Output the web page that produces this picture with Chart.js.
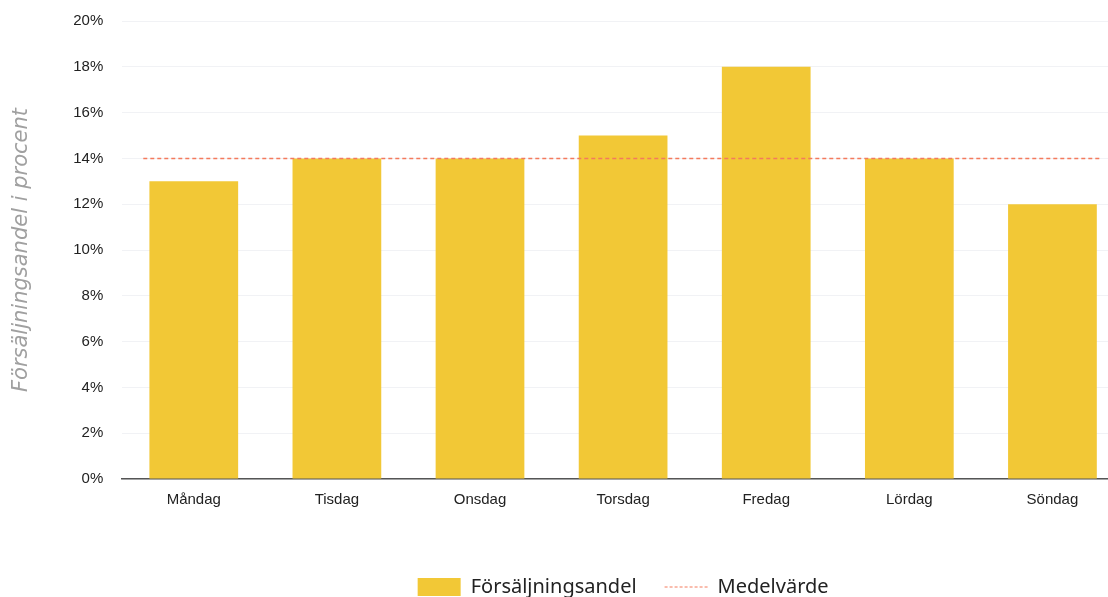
<!DOCTYPE html>
<html>
<head>
<meta charset="utf-8">
<script src="https://cdn.jsdelivr.net/npm/chart.js@4"></script>
<style>
  html, body { margin: 0; padding: 0; background: #fff; overflow: hidden; }
  #wrap { width: 1124px; height: 607px; }
</style>
</head>
<body>
<div id="wrap"><canvas id="salesChart"></canvas></div>
<script>
const days = ["Måndag", "Tisdag", "Onsdag", "Torsdag", "Fredag", "Lördag", "Söndag"];
const salesShare = [13, 14, 14, 15, 18, 14, 12];
const meanValue = 14;
const meanPoints = [{ x: 0, y: meanValue }, { x: 1, y: meanValue }];
const yTicks = [0, 2, 4, 6, 8, 10, 12, 14, 16, 18, 20];

const ctx = document.getElementById("salesChart").getContext("2d");

// legend: keep dataset order and show the mean line dashed
function legendLabels(chart) {
  const items = Chart.defaults.plugins.legend.labels.generateLabels(chart);
  items.forEach(item => {
    const ds = chart.data.datasets[item.datasetIndex];
    if (ds.borderDash) {
      item.lineDash = [3, 2];
      item.lineWidth = 1;
    }
  });
  return items;
}

// center the legend under the plot area instead of the whole canvas
const legendUnderPlot = {
  id: "legendUnderPlot",
  afterLayout(chart) {
    if (chart.legend) chart.legend.left = chart.chartArea.left;
  }
};

new Chart(ctx, {
  data: {
    labels: days,
    datasets: [
      {
        type: "bar",
        label: "Försäljningsandel",
        data: salesShare,
        backgroundColor: "#F2C836",
        borderWidth: 0,
        grouped: false,
        categoryPercentage: 1,
        barPercentage: 0.62,
        pointStyle: "rect",
        order: 2
      },
      {
        type: "line",
        label: "Medelvärde",
        data: meanPoints,
        xAxisID: "xMean",
        borderColor: "#F47A5C",
        borderWidth: 1.5,
        borderDash: [4, 3],
        pointRadius: 0,
        pointStyle: "line",
        fill: false,
        order: 1
      }
    ]
  },
  options: {
    responsive: true,
    maintainAspectRatio: false,
    animation: false,
    layout: { padding: { top: 21, left: 0, right: 0, bottom: 0 } },
    plugins: {
      tooltip: { enabled: false },
      legend: {
        position: "bottom",
        labels: {
          usePointStyle: true,
          pointStyleWidth: 43,
          boxHeight: 18,
          padding: 28,
          color: "#222",
          font: { family: "'Noto Sans', sans-serif", size: 20 },
          generateLabels: legendLabels,
          sort: (a, b) => a.datasetIndex - b.datasetIndex
        }
      }
    },
    scales: {
      x: {
        type: "category",
        grid: { display: false, drawTicks: false },
        border: { display: true, color: "#555", width: 1.5 },
        ticks: {
          padding: 12,
          color: "#222",
          font: { family: "'Liberation Sans', Arial, sans-serif", size: 15 }
        },
        afterFit: (scale) => { scale.height += 28; }
      },
      xMean: {
        type: "linear",
        display: false,
        min: -0.022,
        max: 1.024
      },
      y: {
        min: 0,
        max: 20,
        afterBuildTicks: (scale) => { scale.ticks = yTicks.map(v => ({ value: v })); },
        grid: { color: "#f1f2f5", drawTicks: true, tickLength: 16, tickColor: "transparent" },
        border: { display: false },
        ticks: {
          padding: 3,
          color: "#222",
          font: { family: "'Liberation Sans', Arial, sans-serif", size: 15 },
          callback: (v) => v + "%"
        },
        title: {
          display: true,
          text: "Försäljningsandel i procent",
          color: "#a0a0a0",
          padding: { top: 9, bottom: 36 },
          font: { family: "'DejaVu Sans', sans-serif", size: 21, style: "italic" }
        }
      }
    }
  },
  plugins: [legendUnderPlot]
});
</script>
</body>
</html>
